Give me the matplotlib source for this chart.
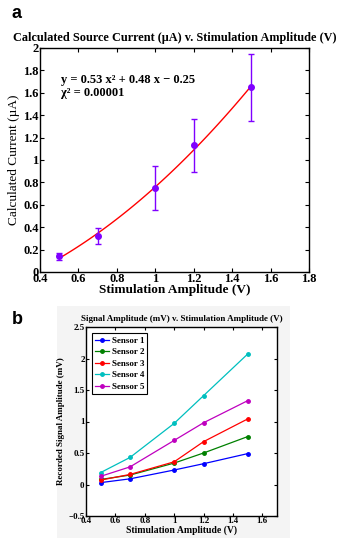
import numpy as np
import matplotlib
matplotlib.use('Agg')
import matplotlib.pyplot as plt

# panel a data
stim_a = [0.5, 0.7, 1.0, 1.2, 1.5]
current = [0.14, 0.32, 0.75, 1.13, 1.65]
current_err = [0.03, 0.07, 0.20, 0.24, 0.30]
fit_coef = [0.53, 0.48, -0.25]

# panel b data
stim_b = [0.5, 0.7, 1.0, 1.2, 1.5]
sensor_names = ['Sensor 1', 'Sensor 2', 'Sensor 3', 'Sensor 4', 'Sensor 5']
sensor_vals = [
    [0.03, 0.09, 0.23, 0.33, 0.49],
    [0.08, 0.15, 0.34, 0.50, 0.76],
    [0.07, 0.16, 0.36, 0.68, 1.04],
    [0.19, 0.43, 0.97, 1.41, 2.07],
    [0.13, 0.28, 0.70, 0.98, 1.33],
]
sensor_colors = ['#0000ff', '#008000', '#ff0000', '#00bfbf', '#bf00bf']

serif = 'Liberation Serif'
W, H = 340, 542
fig = plt.figure(figsize=(W / 100, H / 100), dpi=100)


def px_axes(x0, y0, x1, y1):
    return fig.add_axes([x0 / W, 1 - y1 / H, (x1 - x0) / W, (y1 - y0) / H])


def matlab_ticks(ax, size):
    ax.tick_params(direction='in', top=True, right=True, length=3, width=0.8,
                   labelsize=size)
    for lab in ax.get_xticklabels() + ax.get_yticklabels():
        lab.set_fontfamily(serif)
        lab.set_fontweight('bold')
    for s in ax.spines.values():
        s.set_linewidth(1.0)


# ---- panel a ----
fig.text(12 / W, 1 - 14 / H, 'a', fontsize=13, fontweight='bold',
         family='Liberation Sans', va='center')
ax = px_axes(40, 48, 309, 272)
xs = np.linspace(min(stim_a), max(stim_a), 100)
ax.plot(xs, np.polyval(fit_coef, xs), color='red', lw=1.0)
ax.errorbar(stim_a, current, yerr=current_err, fmt='o', color='#7f00ff',
            ms=4, capsize=2, elinewidth=1, capthick=1)
ax.set_xlim(0.4, 1.8)
ax.set_ylim(0, 2)
ax.set_xticks(np.arange(0.4, 1.81, 0.2))
ax.set_yticks(np.arange(0, 2.01, 0.2))
ax.set_xticklabels(['0.4', '0.6', '0.8', '1', '1.2', '1.4', '1.6', '1.8'])
ax.set_yticklabels(['0', '0.2', '0.4', '0.6', '0.8', '1', '1.2', '1.4', '1.6', '1.8', '2'])
matlab_ticks(ax, 9)
ax.tick_params(pad=1)
ax.set_title('Calculated Source Current (\u00b5A) v. Stimulation Amplitude (V)',
             family=serif, fontweight='bold', fontsize=8.8, pad=5)
ax.set_xlabel('Stimulation Amplitude (V)', family=serif, fontweight='bold',
              fontsize=9.5, labelpad=-1)
ax.set_ylabel('Calculated Current (\u00b5A)', family=serif,
              fontsize=9.5, labelpad=2)
ax.text(0.51, 1.71, 'y = 0.53 x\u00b2 + 0.48 x \u2212 0.25', family=serif,
        fontweight='bold', fontsize=9, va='center')
ax.text(0.51, 1.6, '\u03c7\u00b2 = 0.00001', family=serif,
        fontweight='bold', fontsize=9, va='center')

# ---- panel b ----
fig.text(12 / W, 1 - 320 / H, 'b', fontsize=13, fontweight='bold',
         family='Liberation Sans', va='center')
bg = px_axes(57, 306, 290, 538)
bg.set_facecolor('#f4f4f4')
bg.set_xticks([])
bg.set_yticks([])
for s in bg.spines.values():
    s.set_visible(False)

bx = px_axes(86, 327, 277, 516)
bx.set_facecolor('white')
for name, vals, c in zip(sensor_names, sensor_vals, sensor_colors):
    bx.plot(stim_b, vals, '-', marker='o', color=c, ms=2.5, lw=0.9, label=name)
bx.set_xlim(0.4, 1.7)
bx.set_ylim(-0.5, 2.5)
bx.set_xticks(np.arange(0.4, 1.61, 0.2))
bx.set_xticklabels(['0.4', '0.6', '0.8', '1', '1.2', '1.4', '1.6'])
bx.set_yticks(np.arange(-0.5, 2.51, 0.5))
bx.set_yticklabels(['\u22120.5', '0', '0.5', '1', '1.5', '2', '2.5'])
matlab_ticks(bx, 6.5)
bx.tick_params(pad=1, length=2)
bx.set_title('Signal Amplitude (mV) v. Stimulation Amplitude (V)', family=serif,
             fontweight='bold', fontsize=6.5, pad=4)
bx.set_xlabel('Stimulation Amplitude (V)', family=serif, fontweight='bold',
              fontsize=7, labelpad=0)
bx.set_ylabel('Recorded Signal Amplitude (mV)', family=serif, fontweight='bold',
              fontsize=6.5, labelpad=2)
leg = bx.legend(loc='upper left', fancybox=False, framealpha=1, edgecolor='black',
                prop={'family': serif, 'weight': 'bold', 'size': 6.5},
                handlelength=1.5, borderpad=0.35, labelspacing=0.35,
                handletextpad=0.3, borderaxespad=0.7)
leg.get_frame().set_linewidth(0.8)

fig.savefig('out.png', dpi=100)
